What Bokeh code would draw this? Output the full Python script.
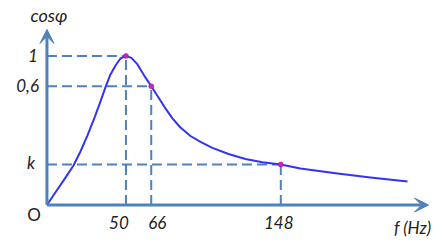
from bokeh.plotting import figure
from bokeh.models import Arrow, VeeHead
from bokeh.core.properties import value
from bokeh.embed import file_html
from bokeh.resources import INLINE

# Resonance curve cos(phi) vs f (schematic, values in plotted units)
f_curve = [0, 6.6, 11.1, 16.8, 21.2, 25.6, 30.1, 33.9, 37.0, 40.2, 43.4, 46.5, 50,
           53.5, 57.3, 62.3, 66, 70.6, 75.0, 79.4, 84.5, 90.8, 97.2, 104.7, 114.9,
           125.6, 136.4, 148, 160.4, 183.9, 204.7, 228.2]
cos_curve = [0, 0.104, 0.174, 0.265, 0.359, 0.466, 0.587, 0.695, 0.789, 0.876, 0.936, 0.983, 1.0,
             0.987, 0.943, 0.856, 0.797, 0.721, 0.648, 0.581, 0.520, 0.463, 0.423, 0.383, 0.342,
             0.309, 0.287, 0.272, 0.245, 0.211, 0.185, 0.158]

# marked points
f_ticks = [50, 66, 148]
f_labels = ["50", "66", "148"]
cos_ticks = [1.0, 0.797, 0.272]
cos_labels = ["1", "0,6", "k"]

AXIS = "#4F81BD"
CURVE = "#3333F5"
FONT = "Lato"

p = figure(width=447, height=247, x_range=(-29.4, 253.5), y_range=(-0.285, 1.372),
           min_border=0, toolbar_location=None, output_backend="svg")
p.axis.visible = False
p.grid.visible = False
p.outline_line_color = None
p.background_fill_color = "white"

zeros = [0] * len(f_ticks)
# dashed guide lines
p.segment(x0=f_ticks, y0=zeros, x1=f_ticks, y1=cos_ticks,
          line_color=AXIS, line_width=2, line_dash="10 5")
p.segment(x0=zeros, y0=cos_ticks, x1=f_ticks, y1=cos_ticks,
          line_color=AXIS, line_width=2, line_dash="10 5")

# axes with arrows
x_end = 241.5
y_end = 1.178
p.add_layout(Arrow(x_start=0, y_start=0, x_end=x_end, y_end=0,
                   line_color=AXIS, line_width=3,
                   end=VeeHead(size=14, line_color=AXIS, fill_color=AXIS, line_width=1)))
p.add_layout(Arrow(x_start=0, y_start=0, x_end=0, y_end=y_end,
                   line_color=AXIS, line_width=3,
                   end=VeeHead(size=14, line_color=AXIS, fill_color=AXIS, line_width=1)))

# curve
p.line(f_curve, cos_curve, line_color=CURVE, line_width=2, line_join="round")
p.scatter(f_ticks, cos_ticks, size=5, fill_color="#D020C0", line_color="#802080", line_width=0.5)

# x tick labels
p.text(x=f_ticks, y=zeros, text=f_labels, x_offset=[-7, 6, -2], y_offset=[17, 17, 17],
       text_align="center", text_baseline="middle", text_font=value(FONT),
       text_font_style="italic", text_font_size="17px", text_color="#222222")
# y tick labels
p.text(x=zeros, y=cos_ticks, text=cos_labels, x_offset=[-9, -8, -12], y_offset=[0, -1, -2],
       text_align="right", text_baseline="middle", text_font=value(FONT),
       text_font_style="italic", text_font_size="17px", text_color="#222222")
# origin
p.text(x=[0], y=[0], text=["O"], x_offset=[-13], y_offset=[9],
       text_align="center", text_baseline="middle", text_font=value(FONT),
       text_font_size="17px", text_color="#222222")
# axis titles
p.text(x=[0], y=[y_end], text=["cos\u03c6"], x_offset=[2], y_offset=[-14],
       text_align="center", text_baseline="middle", text_font=value(FONT),
       text_font_style="italic", text_font_size="18px", text_color="#222222")
p.text(x=[x_end], y=[0], text=["f (Hz)"], x_offset=[-16], y_offset=[22],
       text_align="center", text_baseline="middle", text_font=value(FONT),
       text_font_style="italic", text_font_size="17px", text_color="#222222")

open("out.html", "w").write(file_html(p, INLINE))
